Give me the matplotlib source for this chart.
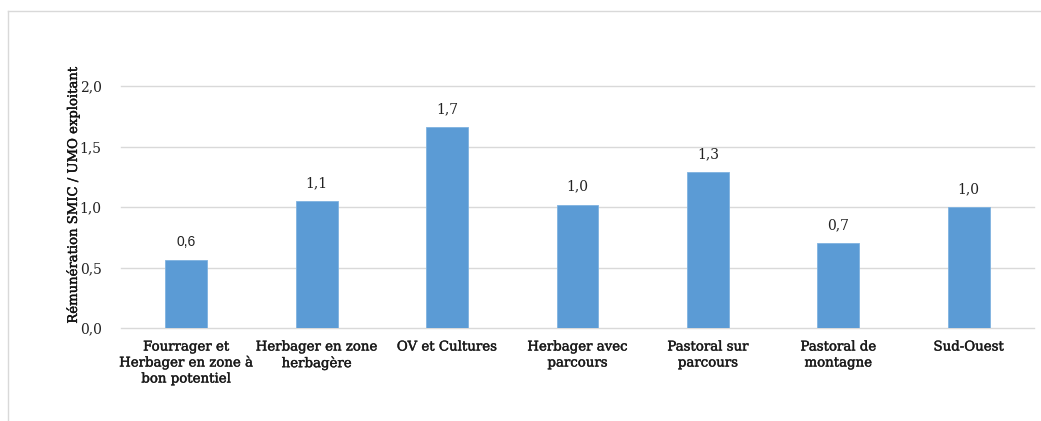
import matplotlib
matplotlib.use("Agg")
import matplotlib.pyplot as plt
import matplotlib.patheffects as pe
from matplotlib.lines import Line2D

categories = [
    "Fourrager et\nHerbager en zone à\nbon potentiel",
    "Herbager en zone\nherbagère",
    "OV et Cultures",
    "Herbager avec\nparcours",
    "Pastoral sur\nparcours",
    "Pastoral de\nmontagne",
    "Sud-Ouest",
]
values = [0.56, 1.05, 1.66, 1.02, 1.29, 0.70, 1.00]
y_ticks = [0.0, 0.5, 1.0, 1.5, 2.0]
y_label = "Rémunération SMIC / UMO exploitant"

plt.rcParams["font.family"] = ["DejaVu Serif"]

W, H = 1041, 421
fig = plt.figure(figsize=(W / 100, H / 100), dpi=100)
fig.patch.set_facecolor("white")

# chart-area frame (top and left edges visible)
frame_col = "#D9D9D9"
fig.add_artist(Line2D([8 / W, 1.0], [1 - 11 / H, 1 - 11 / H], color=frame_col, lw=1.0,
                      transform=fig.transFigure))
fig.add_artist(Line2D([8 / W, 8 / W], [1 - 11 / H, 0.0], color=frame_col, lw=1.0,
                      transform=fig.transFigure))

ax = fig.add_axes([121 / W, (H - 328) / H, 913 / W, 242 / H])
x = range(len(categories))
ax.bar(x, values, width=0.32, color="#5B9BD5", edgecolor="#7FB2E0", linewidth=0.6, zorder=3)

ax.set_xlim(-0.5, len(categories) - 0.5)
ax.set_ylim(0, 2.0)
ax.set_yticks(y_ticks)
ax.set_yticklabels([f"{t:.1f}".replace(".", ",") for t in y_ticks], fontsize=10, color="#222222")
ax.set_xticks(list(x))
ax.set_xticklabels(categories, fontsize=9.6, color="#1a1a1a", linespacing=1.3)
heavy = [pe.withStroke(linewidth=0.3, foreground="#1a1a1a")]
for lbl in ax.get_xticklabels():
    lbl.set_path_effects(heavy)
ax.tick_params(axis="both", length=0)
ax.tick_params(axis="y", pad=14)
ax.tick_params(axis="x", pad=9)

for t in y_ticks:
    ax.axhline(t, color="#D9D9D9", lw=1.0, zorder=1, clip_on=False)
for s in ax.spines.values():
    s.set_visible(False)

for i, v in enumerate(values):
    fam = ["Liberation Sans"] if i == 0 else ["DejaVu Serif"]
    ax.annotate(f"{v:.1f}".replace(".", ","), (i, v), xytext=(0, 8),
                textcoords="offset points", ha="center", va="bottom",
                fontsize=10, color="#222222", family=fam)

ax.set_ylabel(y_label, fontsize=9.5, color="#111111")
ax.yaxis.label.set_path_effects([pe.withStroke(linewidth=0.3, foreground="#111111")])
ax.yaxis.set_label_coords(-0.045, 0.55)

fig.savefig("out.png", dpi=100)
